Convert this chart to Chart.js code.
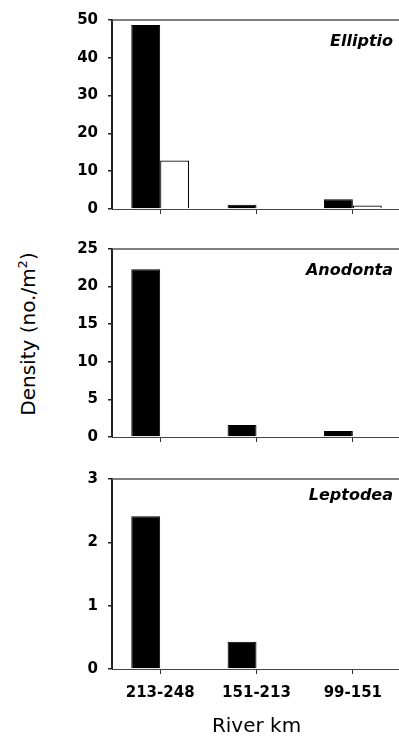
<!DOCTYPE html>
<html lang="en">
<head>
  <meta charset="UTF-8" />
  <title>Mussel density by river km</title>
  <script src="https://cdn.jsdelivr.net/npm/chart.js"></script>
  <style>
    html, body { margin: 0; padding: 0; background: #fff; overflow: hidden; width: 399px; height: 737px; }
    canvas { position: absolute; left: 0; }
    #yTitle {
      position: absolute; left: -74px; top: 324px; width: 200px; height: 20px;
      line-height: 20px; text-align: center; color: #000;
      font: 20px "DejaVu Sans"; transform: rotate(-90deg);
    }
    #yTitle sup { font-size: 13px; line-height: 0; }
  </style>
</head>
<body>

  <div id="yTitle">Density (no./m<sup>2</sup>)</div>
  <canvas id="c1" width="401" height="228" style="top:0px"></canvas>
  <canvas id="c2" width="401" height="227" style="top:229px"></canvas>
  <canvas id="c3" width="401" height="280" style="top:459px"></canvas>

  <script>
    // river reaches (km)
    const riverKm = ['213-248', '151-213', '99-151'];
    const species = ['Elliptio', 'Anodonta', 'Leptodea'];

    // black and white bars for each species
    const elliptioBlack = [48.7, 1.1, 2.6];
    const elliptioWhite = [12.8, 0, 0.9];
    const anodontaBlack = [22.3, 1.6, 0.8];
    const anodontaWhite = [0, 0, 0];
    const leptodeaBlack = [2.41, 0.43, 0];
    const leptodeaWhite = [0, 0, 0];

    const yMax = [50, 25, 3];
    const yStep = [10, 5, 1];

    const FONT = 'DejaVu Sans';

    // top frame line + species name in the top right corner
    const frame = {
      id: 'frame',
      afterDatasetsDraw(chart, args, opts) {
        const { ctx, chartArea: a } = chart;
        ctx.save();
        ctx.strokeStyle = '#555';
        ctx.lineWidth = 1.5;
        ctx.beginPath();
        ctx.moveTo(a.left, a.top);
        ctx.lineTo(a.right, a.top);
        ctx.stroke();
        ctx.font = 'italic bold 16px "' + FONT + '"';
        ctx.fillStyle = '#000';
        ctx.textAlign = 'right';
        ctx.textBaseline = 'alphabetic';
        ctx.fillText(opts.name, a.right - 8, a.top + opts.labelDy);
        ctx.restore();
      }
    };

    function makePanel(id, name, black, white, max, step, last, labelDy) {
      return new Chart(document.getElementById(id), {
        type: 'bar',
        data: {
          labels: riverKm,
          datasets: [
            { data: black, backgroundColor: '#000', borderColor: '#000', borderWidth: 1,
              categoryPercentage: 0.6, barPercentage: 1 },
            { data: white, backgroundColor: '#fff', borderColor: '#000', borderWidth: 1.2,
              categoryPercentage: 0.6, barPercentage: 1 }
          ]
        },
        options: {
          responsive: false,
          animation: false,
          layout: { padding: { top: 20, right: 0, bottom: 0, left: 0 } },
          plugins: {
            legend: { display: false },
            tooltip: { enabled: false },
            frame: { name: name, labelDy: labelDy }
          },
          scales: {
            x: {
              grid: { offset: false, drawOnChartArea: false, drawTicks: true, tickLength: 5, color: '#333', lineWidth: 1 },
              border: { color: '#444', width: 1 },
              ticks: { display: last, color: '#000', font: { family: FONT, size: 15, weight: 'bold' }, padding: 10,
                       maxRotation: 0, autoSkip: false },
              title: { display: last, text: 'River km', color: '#000',
                       font: { family: FONT, size: 20 }, padding: { top: 12, bottom: 0 } },
              afterFit(s) { s.height = last ? 70 : 10; }
            },
            y: {
              min: 0,
              max: max,
              grid: { drawOnChartArea: false, tickLength: 4, color: '#222', lineWidth: 1.5 },
              border: { color: '#222', width: 2 },
              ticks: { stepSize: step, color: '#000', font: { family: FONT, size: 15, weight: 'bold' }, padding: 10 },
              afterFit(s) { s.width = 112; }
            }
          }
        },
        plugins: [frame]
      });
    }

    makePanel('c1', species[0], elliptioBlack, elliptioWhite, yMax[0], yStep[0], false, 26);
    makePanel('c2', species[1], anodontaBlack, anodontaWhite, yMax[1], yStep[1], false, 26);
    makePanel('c3', species[2], leptodeaBlack, leptodeaWhite, yMax[2], yStep[2], true, 21);
  </script>

</body>
</html>
